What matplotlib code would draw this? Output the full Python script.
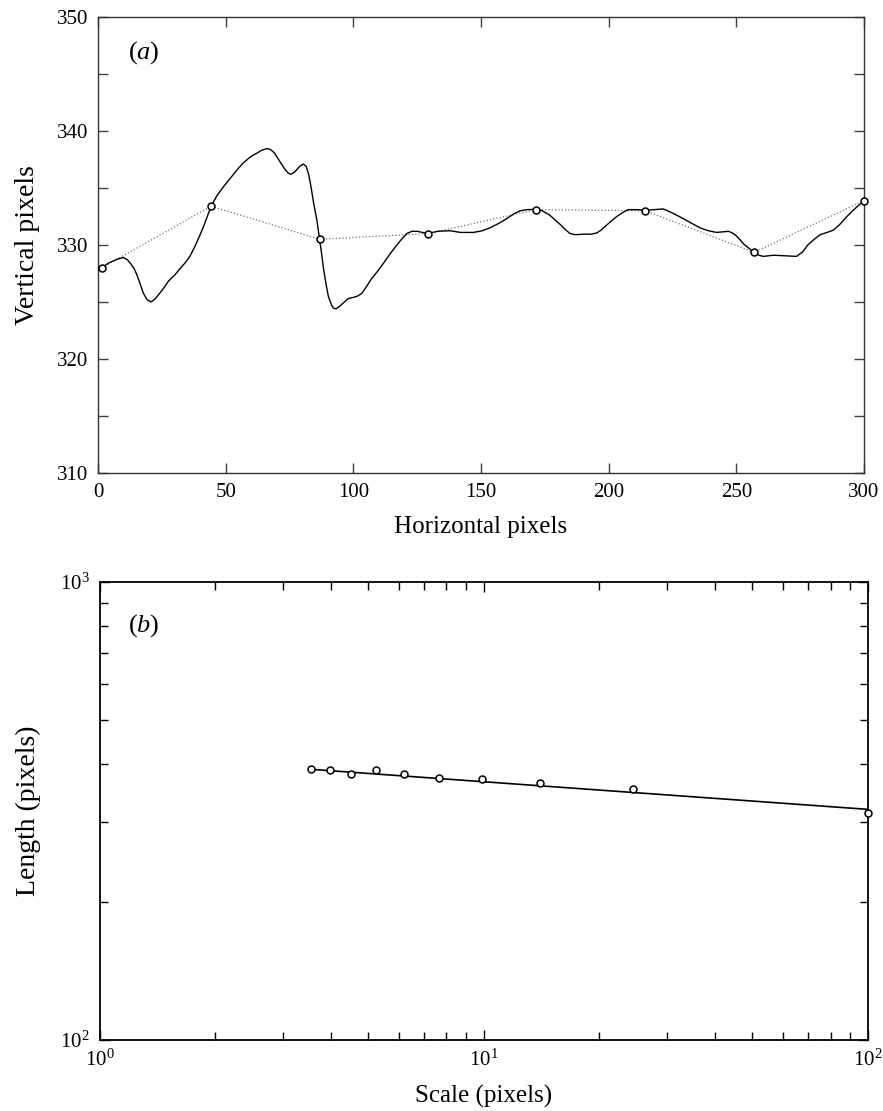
import numpy as np
import matplotlib
matplotlib.use("Agg")
import matplotlib.pyplot as plt
from matplotlib.ticker import MultipleLocator, LogLocator, NullFormatter

plt.rcParams['font.family'] = ['Liberation Serif', 'DejaVu Serif']
plt.rcParams['mathtext.fontset'] = 'custom'
plt.rcParams['mathtext.rm'] = 'Liberation Serif'
plt.rcParams['mathtext.it'] = 'Liberation Serif:italic'

# ---- Panel (a): boundary trace ----
trace_x = [0, 1.5, 4, 7.5, 9.9, 11.5, 13, 14.2, 15.2, 16.5, 17.7, 19.2, 20.8, 22.5, 24.3,
           26, 27.5, 29, 30.2, 32, 34, 36, 38, 40, 41.3, 42.8, 44.3,
           46.5, 49.1, 52, 54.5, 56.9, 59, 60.5, 62.2, 64, 66, 67.4, 69, 71, 73, 74.5,
           75.6, 77, 79, 80.4, 81.5, 82.5, 83.5, 84.5, 85.7, 86.8, 87.6, 88.2, 89.2,
           90.2, 91.5, 92.3, 93.2, 94.5, 96, 98, 100, 101.5, 103.3, 105, 107, 109.5,
           111.8, 114, 116, 118.5, 120.9, 123, 125, 127, 129.1, 133,
           137.9, 142, 147, 150.5, 153.5, 157, 160, 163, 165.3, 168, 171.6, 174, 177,
           179, 181, 183, 184.9, 187, 190, 193, 195.3, 197, 199, 201,
           203.2, 205.5, 207.7, 211, 214.3, 218, 221.4, 225, 229.3, 232.5, 235.8, 239,
           242.3, 244.5, 246.9, 248.5, 250, 251.5, 252.8, 255, 257, 258.8, 260.6, 262.5,
           264.5, 269, 273.6, 276, 278, 280.5, 282.8, 285.5, 288, 290.5, 293.3, 297, 300]
trace_y = [327.9, 328.0, 328.4, 328.75, 328.9, 328.7, 328.3, 327.9, 327.4, 326.6, 325.8,
           325.2, 325.0, 325.3, 325.8, 326.3, 326.8, 327.15, 327.4, 327.9, 328.4,
           329.0, 329.9, 330.9, 331.6, 332.5, 333.4,
           334.3, 335.1, 335.9, 336.6, 337.2, 337.6, 337.85, 338.05, 338.3, 338.45,
           338.4, 338.1, 337.4, 336.7, 336.3, 336.2, 336.4, 336.9, 337.1, 336.9, 336.2,
           335.0, 333.6, 332.2, 330.5, 329.2, 328.1, 326.7, 325.5, 324.7, 324.45, 324.4,
           324.6, 324.9, 325.3, 325.4, 325.5, 325.75, 326.3, 327.0, 327.7,
           328.4, 329.1, 329.7, 330.4, 331.0, 331.2, 331.2, 331.1, 331.0, 331.2,
           331.25, 331.1, 331.1, 331.25, 331.5, 331.9, 332.3, 332.75, 333.0, 333.1,
           333.13, 333.0, 332.6, 332.2, 331.8, 331.35, 331.0, 330.9, 330.95, 330.95,
           331.05, 331.3, 331.7, 332.1,
           332.5, 332.85, 333.1, 333.1, 333.04, 333.1, 333.16, 332.8, 332.3, 331.9,
           331.5, 331.25, 331.1, 331.15, 331.2, 331.05, 330.8, 330.45, 330.1, 329.7,
           329.35, 329.1, 329.0, 329.05,
           329.1, 329.05, 329.0, 329.4, 330.0, 330.5, 330.9, 331.1, 331.3, 331.8, 332.5,
           333.3, 333.86]
sample_x = [1.5, 44.3, 86.8, 129.1, 171.6, 214.3, 257.0, 300.0]
sample_y = [328.0, 333.4, 330.5, 331.0, 333.1, 333.0, 329.35, 333.9]

# ---- Panel (b): length vs scale ----
scale_x = [3.55, 3.98, 4.51, 5.24, 6.20, 7.63, 9.88, 14.02, 24.5, 100.0]
length_y = [390.6, 388.7, 380.9, 388.2, 380.3, 374.0, 372.1, 363.5, 352.7, 313.5]
fit_x = [3.55, 100.0]
fit_y = [390.0, 318.9]

fig = plt.figure(figsize=(8.83, 11.11), dpi=100)

ax1 = fig.add_axes([0.111, 0.5743, 0.8675, 0.4104])
ax1.plot(sample_x, sample_y, linestyle=':', color='0.45', linewidth=0.9, zorder=2)
ax1.plot(trace_x, trace_y, color='black', linewidth=1.0, zorder=3)
ax1.plot(sample_x, sample_y, linestyle='none', marker='o', markersize=5,
         markerfacecolor='white', markeredgecolor='black', markeredgewidth=1.1, zorder=4,
         clip_on=False)
ax1.set_xlim(0, 300)
ax1.set_ylim(310, 350)
ax1.xaxis.set_major_locator(MultipleLocator(50))
ax1.yaxis.set_major_locator(MultipleLocator(10))
ax1.yaxis.set_minor_locator(MultipleLocator(5))
ax1.tick_params(which='both', direction='in', top=True, right=True, labelsize=15,
                width=1.0, color='0.25', pad=7)
ax1.tick_params(which='major', length=7)
ax1.tick_params(which='minor', length=7)
for s in ax1.spines.values():
    s.set_linewidth(1.0)
    s.set_color('0.2')
ax1.set_xlabel('Horizontal pixels', fontsize=18, labelpad=10)
ax1.set_ylabel('Vertical pixels', fontsize=20, labelpad=12)
ax1.text(0.039, 0.921, '($\\mathit{a}$)', transform=ax1.transAxes, fontsize=19,
         ha='left', va='center')

ax2 = fig.add_axes([0.1129, 0.0639, 0.8698, 0.4122])
ax2.set_xscale('log')
ax2.set_yscale('log')
ax2.plot(fit_x, fit_y, color='black', linewidth=1.2, zorder=2)
ax2.plot(scale_x, length_y, linestyle='none', marker='o', markersize=5,
         markerfacecolor='white', markeredgecolor='black', markeredgewidth=1.1, zorder=3,
         clip_on=False)
ax2.set_xlim(1, 100)
ax2.set_ylim(100, 1000)
ax2.xaxis.set_major_locator(LogLocator(base=10, numticks=5))
ax2.xaxis.set_minor_locator(LogLocator(base=10, subs=np.arange(2, 10), numticks=10))
ax2.yaxis.set_major_locator(LogLocator(base=10, numticks=5))
ax2.yaxis.set_minor_locator(LogLocator(base=10, subs=np.arange(2, 10), numticks=10))
ax2.xaxis.set_minor_formatter(NullFormatter())
ax2.yaxis.set_minor_formatter(NullFormatter())
ax2.tick_params(which='both', direction='in', top=True, right=True, labelsize=15,
                width=1.0, pad=7)
ax2.tick_params(which='major', length=7)
ax2.tick_params(which='minor', length=6)
for s in ax2.spines.values():
    s.set_linewidth(1.3)
ax2.set_xlabel('Scale (pixels)', fontsize=18, labelpad=10)
ax2.set_ylabel('Length (pixels)', fontsize=20, labelpad=14)
ax2.text(0.037, 0.906, '($\\mathit{b}$)', transform=ax2.transAxes, fontsize=19,
         ha='left', va='center')

fig.savefig('out.png', dpi=100)
